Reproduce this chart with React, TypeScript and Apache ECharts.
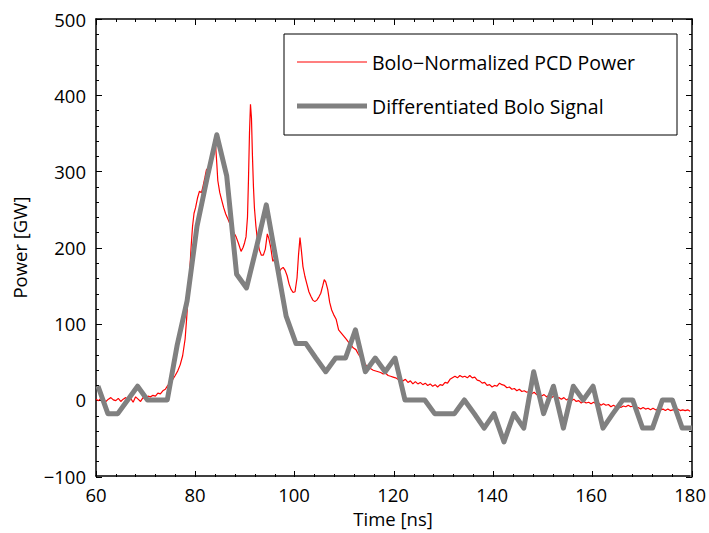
import React, { useEffect, useRef } from "react";
import * as echarts from "echarts";

const FONT = "Open Sans";

// Differentiated bolometer signal (sampled every 2 ns)
const boloTime = [
  60.4, 62.4, 64.4, 66.4, 68.4, 70.4, 72.4, 74.4, 76.4, 78.4, 80.4, 82.4, 84.4, 86.4, 88.4, 90.4,
  92.4, 94.4, 96.4, 98.4, 100.4, 102.4, 104.4, 106.4, 108.4, 110.4, 112.4, 114.4, 116.4, 118.4,
  120.4, 122.4, 124.4, 126.4, 128.4, 130.4, 132.4, 134.4, 136.4, 138.4, 140.4, 142.4, 144.4,
  146.4, 148.4, 150.4, 152.4, 154.4, 156.4, 158.4, 160.4, 162.4, 164.4, 166.4, 168.4, 170.4,
  172.4, 174.4, 176.4, 178.4, 180.4,
];
const boloPower = [
  18, -18, -18, 0, 18, 0, 0, 0, 72, 130, 228, 290, 348, 294, 165, 147,
  200, 256, 183, 110, 74, 74, 55, 37, 55, 55, 92, 37, 55, 37,
  55, 0, 0, 0, -18, -18, -18, 0, -18, -37, -18, -55, -18,
  -37, 37, -18, 18, -37, 18, 0, 18, -37, -18, 0, 0, -37,
  -37, 0, 0, -37, -37,
];

// Bolo-normalized PCD power
const pcdTime = [
  60, 60.5, 61, 61.5, 62, 62.5, 63, 63.5, 64, 64.5, 65, 65.5, 66, 66.5, 67, 67.5, 68, 68.5, 69, 69.5,
  70, 70.5, 71, 71.5, 72, 72.5, 73, 73.5, 74, 74.5, 75, 75.5, 76, 76.5, 77, 77.5, 78, 78.3, 78.6, 78.9,
  79.2, 79.5, 79.8, 80.1, 80.5, 80.9, 81.3, 81.6, 82, 82.3, 82.7, 83, 83.4, 83.7, 84, 84.2, 84.4, 84.6,
  85, 85.4, 85.8, 86.2, 86.6, 87, 87.4, 87.8, 88.3, 88.8, 89.3, 89.7, 90, 90.3, 90.6, 90.8, 91, 91.2,
  91.4, 91.6, 91.8, 92, 92.3, 92.6, 93, 93.4, 93.8, 94.2, 94.6, 94.9, 95.3, 95.7, 96.1, 96.5, 97, 97.4,
  97.8, 98.2, 98.6, 99, 99.4, 99.8, 100.2, 100.6, 100.9, 101.2, 101.5, 101.8, 102.2, 102.6, 103, 103.4,
  103.8, 104.2, 104.6, 105, 105.4, 105.8, 106.1, 106.4, 106.8, 107.2, 107.6, 108, 108.5, 109, 109.5,
  110, 110.5, 111, 111.5, 112, 112.5, 113, 113.5, 114, 114.5, 115, 115.5, 116, 116.5, 117, 117.5, 118,
  118.5, 119, 119.5, 120, 120.5, 121, 121.5, 122, 122.5, 123, 123.5, 124, 124.5, 125, 125.5, 126,
  126.5, 127, 127.5, 128, 128.5, 129, 129.5, 130, 130.5, 131, 131.5, 132, 132.5, 133, 133.5, 134,
  134.5, 135, 135.5, 136, 136.5, 137, 137.5, 138, 138.5, 139, 139.5, 140, 140.5, 141, 141.5, 142,
  142.5, 143, 143.5, 144, 144.5, 145, 145.5, 146, 146.5, 147, 147.5, 148, 148.5, 149, 149.5, 150,
  150.5, 151, 151.5, 152, 152.5, 153, 153.5, 154, 154.5, 155, 155.5, 156, 156.5, 157, 157.5, 158,
  158.5, 159, 159.5, 160, 160.5, 161, 161.5, 162, 162.5, 163, 163.5, 164, 164.5, 165, 165.5, 166,
  166.5, 167, 167.5, 168, 168.5, 169, 169.5, 170, 170.5, 171, 171.5, 172, 172.5, 173, 173.5, 174,
  174.5, 175, 175.5, 176, 176.5, 177, 177.5, 178, 178.5, 179, 179.5, 180,
];
const pcdPower = [
  1, -1, 2, 0, -2, 1, 3, 0, -1, 2, -2, 1, 3, 0, 2, -3, 4, 1, -2, 3,
  2, 5, 4, 6, 5, 9, 8, 12, 14, 19, 22, 27, 32, 38, 46, 58, 80, 106, 135, 165,
  200, 228, 245, 252, 265, 274, 272, 280, 292, 302, 305, 312, 325, 333, 345, 330, 310, 288,
  272, 262, 252, 244, 238, 232, 228, 220, 214, 205, 195, 200, 206, 214, 240, 290, 350, 388,
  370, 320, 280, 252, 228, 210, 197, 190, 190, 198, 218, 212, 200, 182, 185, 178, 168, 172,
  174, 170, 163, 152, 145, 141, 142, 160, 190, 213, 195, 175, 162, 152, 142, 136,
  131, 129, 131, 135, 140, 150, 158, 155, 145, 128, 118, 112, 106, 92, 88,
  84, 80, 76, 72, 68, 66, 60, 55, 51, 46, 43, 41, 39, 38, 37, 36, 34,
  35, 32, 31, 30, 29, 27, 26, 25, 27, 23, 25, 21, 24, 21, 23, 20,
  22, 19, 21, 18, 20, 17, 20, 19, 23, 22, 27, 29, 31, 29, 32, 30,
  31, 29, 32, 29, 30, 26, 25, 22, 23, 19, 20, 17, 19, 18, 22, 20,
  19, 16, 17, 14, 15, 12, 14, 11, 12, 10, 11, 8, 10, 7, 8, 5,
  7, 4, 6, 3, 5, 2, 3, 1, 3, 0, 2, -1, 1, -2, -1, -4,
  -2, -4, -3, -5, -3, -5, -4, -7, -5, -7, -6, -9, -7, -9, -8, -10,
  -8, -9, -7, -9, -8, -11, -10, -12, -10, -12, -11, -13, -11, -13, -12, -13,
  -12, -14, -12, -14, -13, -13, -12, -14, -13, -14, -13, -15,
];

const xTicks = { min: 60, max: 180, interval: 20 };
const yTicks = { min: -100, max: 500, interval: 100 };

const seriesNames = ["Bolo\u2212Normalized PCD Power", "Differentiated Bolo Signal"];

const GRID = { left: 96, right: 17, top: 19, bottom: 56 };
const PLOT_W = 709 - GRID.left - GRID.right;
const PLOT_H = 533 - GRID.top - GRID.bottom;
const MAJOR_LEN = 6;
const MINOR_LEN = 3;

const labelStyle = () => ({ color: "#000", fontSize: 18.5, fontFamily: FONT });

// y axis that only draws ticks (pointing into the plot via opposite position + negative offset)
function yTickAxis(position: string, showLine: boolean) {
  return {
    type: "value",
    gridIndex: 1,
    position,
    offset: -PLOT_W,
    ...yTicks,
    axisLine: { show: showLine, onZero: false, lineStyle: { color: "#000", width: 1.5 } },
    axisTick: { show: true, inside: false, length: MAJOR_LEN, lineStyle: { color: "#000", width: 1 } },
    minorTick: { show: true, splitNumber: 5, length: MINOR_LEN, lineStyle: { color: "#000", width: 1 } },
    axisLabel: { show: false },
    splitLine: { show: false },
  };
}

// thin strips along top/bottom edges whose split lines act as inward x ticks
const strips = [
  { top: GRID.top + PLOT_H - MAJOR_LEN, height: MAJOR_LEN, minor: false },
  { top: GRID.top + PLOT_H - MINOR_LEN, height: MINOR_LEN, minor: true },
  { top: GRID.top, height: MAJOR_LEN, minor: false },
  { top: GRID.top, height: MINOR_LEN, minor: true },
];

export default function App() {
  const ref = useRef<HTMLDivElement>(null);
  useEffect(() => {
    if (!ref.current) return;
    const chart = echarts.init(ref.current, null, { renderer: "svg" });
    const stripGrids = strips.map((s) => ({ left: GRID.left, width: PLOT_W, top: s.top, height: s.height }));
    const stripX = strips.map((s, i) => ({
      type: "value",
      gridIndex: 2 + i,
      ...xTicks,
      axisLine: { show: false },
      axisTick: { show: false },
      axisLabel: { show: false },
      minorTick: { show: false, splitNumber: 5 },
      splitLine: { show: !s.minor, lineStyle: { color: "#000", width: 1 } },
      minorSplitLine: { show: s.minor, lineStyle: { color: "#000", width: 1 } },
    }));
    const stripY = strips.map((s, i) => ({
      type: "value",
      gridIndex: 2 + i,
      min: 0,
      max: 1,
      show: false,
      splitLine: { show: false },
    }));
    chart.setOption({
      animation: false,
      backgroundColor: "#fff",
      grid: [{ ...GRID }, { ...GRID }, ...stripGrids],
      xAxis: [
        {
          type: "value",
          gridIndex: 0,
          ...xTicks,
          position: "bottom",
          name: "Time [ns]",
          nameLocation: "middle",
          nameGap: 31,
          nameTextStyle: labelStyle(),
          axisLine: { show: true, onZero: false, lineStyle: { color: "#000", width: 1.5 } },
          axisTick: { show: false },
          splitLine: { show: false },
          axisLabel: { ...labelStyle(), margin: 9 },
        },
        {
          type: "value",
          gridIndex: 1,
          ...xTicks,
          position: "top",
          axisLine: { show: true, onZero: false, lineStyle: { color: "#000", width: 1.5 } },
          axisTick: { show: false },
          axisLabel: { show: false },
          splitLine: { show: false },
        },
        ...stripX,
      ],
      yAxis: [
        {
          type: "value",
          gridIndex: 0,
          ...yTicks,
          position: "left",
          name: "Power [GW]",
          nameLocation: "middle",
          nameGap: 67,
          nameTextStyle: labelStyle(),
          axisLine: { show: true, onZero: false, lineStyle: { color: "#000", width: 1.5 } },
          axisTick: { show: false },
          splitLine: { show: false },
          axisLabel: {
            ...labelStyle(),
            margin: 10,
            formatter: (v: number) => (v < 0 ? "\u2212" + Math.abs(v) : String(v)),
          },
        },
        yTickAxis("right", false),
        ...stripY,
      ],
      legend: {
        orient: "vertical",
        left: 284,
        top: 34,
        padding: [18, 12, 19, 13],
        itemWidth: 70,
        itemHeight: 20,
        itemGap: 24,
        backgroundColor: "#fff",
        borderColor: "#000",
        borderWidth: 1,
        borderRadius: 0,
        z: 10,
        data: [
          {
            name: seriesNames[0],
            icon: "path://M0,0 L0.001,0 L0,0 Z M0,20 L0.001,20 L0,20 Z M0,9.5 L70,9.5 L70,10.5 L0,10.5 Z",
          },
          {
            name: seriesNames[1],
            icon: "path://M0,0 L0.001,0 L0,0 Z M0,20 L0.001,20 L0,20 Z M0,7.5 L70,7.5 L70,12.5 L0,12.5 Z",
          },
        ],
        textStyle: { color: "#000", fontSize: 19.5, fontFamily: FONT, width: 293, lineHeight: 20 },
      },
      series: [
        {
          name: seriesNames[0],
          type: "line",
          symbol: "none",
          xAxisIndex: 0,
          yAxisIndex: 0,
          lineStyle: { color: "#ff0000", width: 1.2 },
          itemStyle: { color: "#ff0000" },
          data: pcdTime.map((t, i) => [t, pcdPower[i]]),
          z: 2,
        },
        {
          name: seriesNames[1],
          type: "line",
          symbol: "none",
          xAxisIndex: 0,
          yAxisIndex: 0,
          lineStyle: { color: "#808080", width: 5, join: "round" },
          itemStyle: { color: "#808080" },
          data: boloTime.map((t, i) => [t, boloPower[i]]),
          z: 3,
        },
      ],
    });
    // second y tick axis (right edge, ticks pointing left) shares grid 1
    chart.setOption({
      yAxis: [{}, {}, {}, {}, {}, {}, {
        type: "value",
        gridIndex: 1,
        position: "left",
        offset: -PLOT_W,
        ...yTicks,
        axisLine: { show: true, onZero: false, lineStyle: { color: "#000", width: 1.5 } },
        axisTick: { show: true, inside: false, length: MAJOR_LEN, lineStyle: { color: "#000", width: 1 } },
        minorTick: { show: true, splitNumber: 5, length: MINOR_LEN, lineStyle: { color: "#000", width: 1 } },
        axisLabel: { show: false },
        splitLine: { show: false },
      }],
    });
    return () => chart.dispose();
  }, []);
  return <div ref={ref} style={{ width: 709, height: 533, position: "absolute", left: 0, top: 0 }} />;
}
